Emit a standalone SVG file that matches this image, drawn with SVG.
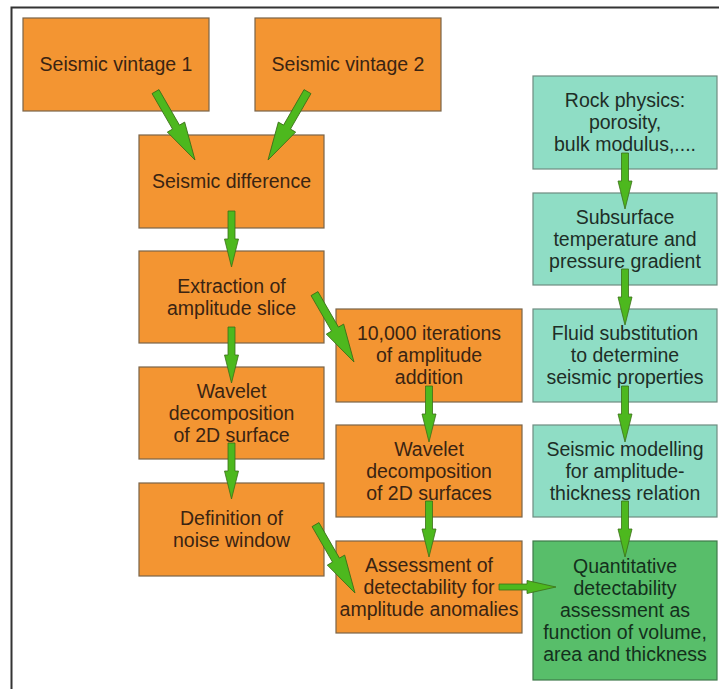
<svg xmlns="http://www.w3.org/2000/svg" width="719" height="689" viewBox="0 0 719 689">
<style>
  .o rect { fill: #F39532; stroke: #7A6448; stroke-width: 1.2; }
  .t rect { fill: #8FDDC5; stroke: #6E8C80; stroke-width: 1.2; }
  .g rect { fill: #58BE6A; stroke: #3F7A4A; stroke-width: 1.2; }
  text { font-family: "Liberation Sans", Arial, sans-serif; font-size: 19.5px; text-anchor: middle; }
  .o text { fill: #3A2412; }
  .t text { fill: #1E2E27; }
  .g text { fill: #14301C; }
  .arrow { fill: #4DB81E; stroke: #3B6E18; stroke-width: 0.8; stroke-linejoin: miter; }
</style>
<defs>
  <path id="av" d="M0,-3.5 H28 V-7 L56,0 L28,7 V3.5 H0 Z"/>
  <path id="ad" d="M0,-4 H41 V-10 L79,0 L41,10 V4 H0 Z"/>
</defs>
<rect width="719" height="689" fill="#ffffff"/>
<path d="M11.5,700 V7.5 H730" fill="none" stroke="#333333" stroke-width="2"/>

<g id="vintage1" class="o"><rect x="23" y="18" width="186" height="93"/><text x="116" y="71">Seismic vintage 1</text></g>
<g id="vintage2" class="o"><rect x="255" y="18" width="186" height="93"/><text x="348" y="71">Seismic vintage 2</text></g>
<g id="difference" class="o"><rect x="139" y="135" width="185" height="93"/><text x="231.5" y="188">Seismic difference</text></g>
<g id="extraction" class="o"><rect x="139" y="251" width="185" height="92"/><text x="231.5" y="293">Extraction of</text><text x="231.5" y="315">amplitude slice</text></g>
<g id="wavelet1" class="o"><rect x="139" y="367" width="185" height="92"/><text x="231.5" y="398">Wavelet</text><text x="231.5" y="420">decomposition</text><text x="231.5" y="442">of 2D surface</text></g>
<g id="noise" class="o"><rect x="139" y="483" width="185" height="93"/><text x="231.5" y="525">Definition of</text><text x="231.5" y="547">noise window</text></g>
<g id="iterations" class="o"><rect x="336" y="309" width="186" height="93"/><text x="429" y="340">10,000 iterations</text><text x="429" y="362">of amplitude</text><text x="429" y="384">addition</text></g>
<g id="wavelet2" class="o"><rect x="336" y="425" width="186" height="92"/><text x="429" y="456">Wavelet</text><text x="429" y="478">decomposition</text><text x="429" y="500">of 2D surfaces</text></g>
<g id="assessment" class="o"><rect x="336" y="541" width="186" height="92"/><text x="429" y="572">Assessment of</text><text x="429" y="594">detectability for</text><text x="429" y="616">amplitude anomalies</text></g>
<g id="rockphysics" class="t"><rect x="533" y="76" width="184" height="93"/><text x="625" y="107">Rock physics:</text><text x="625" y="129">porosity,</text><text x="625" y="151">bulk modulus,....</text></g>
<g id="temperature" class="t"><rect x="533" y="193" width="184" height="92"/><text x="625" y="224">Subsurface</text><text x="625" y="246">temperature and</text><text x="625" y="268">pressure gradient</text></g>
<g id="fluid" class="t"><rect x="533" y="309" width="184" height="93"/><text x="625" y="340">Fluid substitution</text><text x="625" y="362">to determine</text><text x="625" y="384">seismic properties</text></g>
<g id="modelling" class="t"><rect x="533" y="425" width="184" height="92"/><text x="625" y="456">Seismic modelling</text><text x="625" y="478">for amplitude-</text><text x="625" y="500">thickness relation</text></g>
<g id="quantitative" class="g"><rect x="533" y="541" width="184" height="139"/><text x="625" y="573">Quantitative</text><text x="625" y="595">detectability</text><text x="625" y="617">assessment as</text><text x="625" y="639">function of volume,</text><text x="625" y="661">area and thickness</text></g>

<g id="connectors" class="arrow">
  <use href="#ad" transform="translate(155.5,91.6) rotate(60)"/>
  <use href="#ad" transform="translate(307.5,91.6) rotate(120)"/>
  <use href="#av" transform="translate(231.5,211) rotate(90)"/>
  <use href="#av" transform="translate(231.5,327) rotate(90)"/>
  <use href="#av" transform="translate(231.5,443) rotate(90)"/>
  <use href="#ad" transform="translate(314.5,293.6) rotate(60)"/>
  <use href="#ad" transform="translate(315.5,524.6) rotate(60)"/>
  <use href="#av" transform="translate(429,386) rotate(90)"/>
  <use href="#av" transform="translate(429,501) rotate(90)"/>
  <use href="#av" transform="translate(625,153) rotate(90)"/>
  <use href="#av" transform="translate(625,269) rotate(90)"/>
  <use href="#av" transform="translate(625,386) rotate(90)"/>
  <use href="#av" transform="translate(625,501) rotate(90)"/>
  <path d="M499,584 H527 V580.5 L556,587 L527,593.5 V590 H499 Z"/>
</g>
</svg>
